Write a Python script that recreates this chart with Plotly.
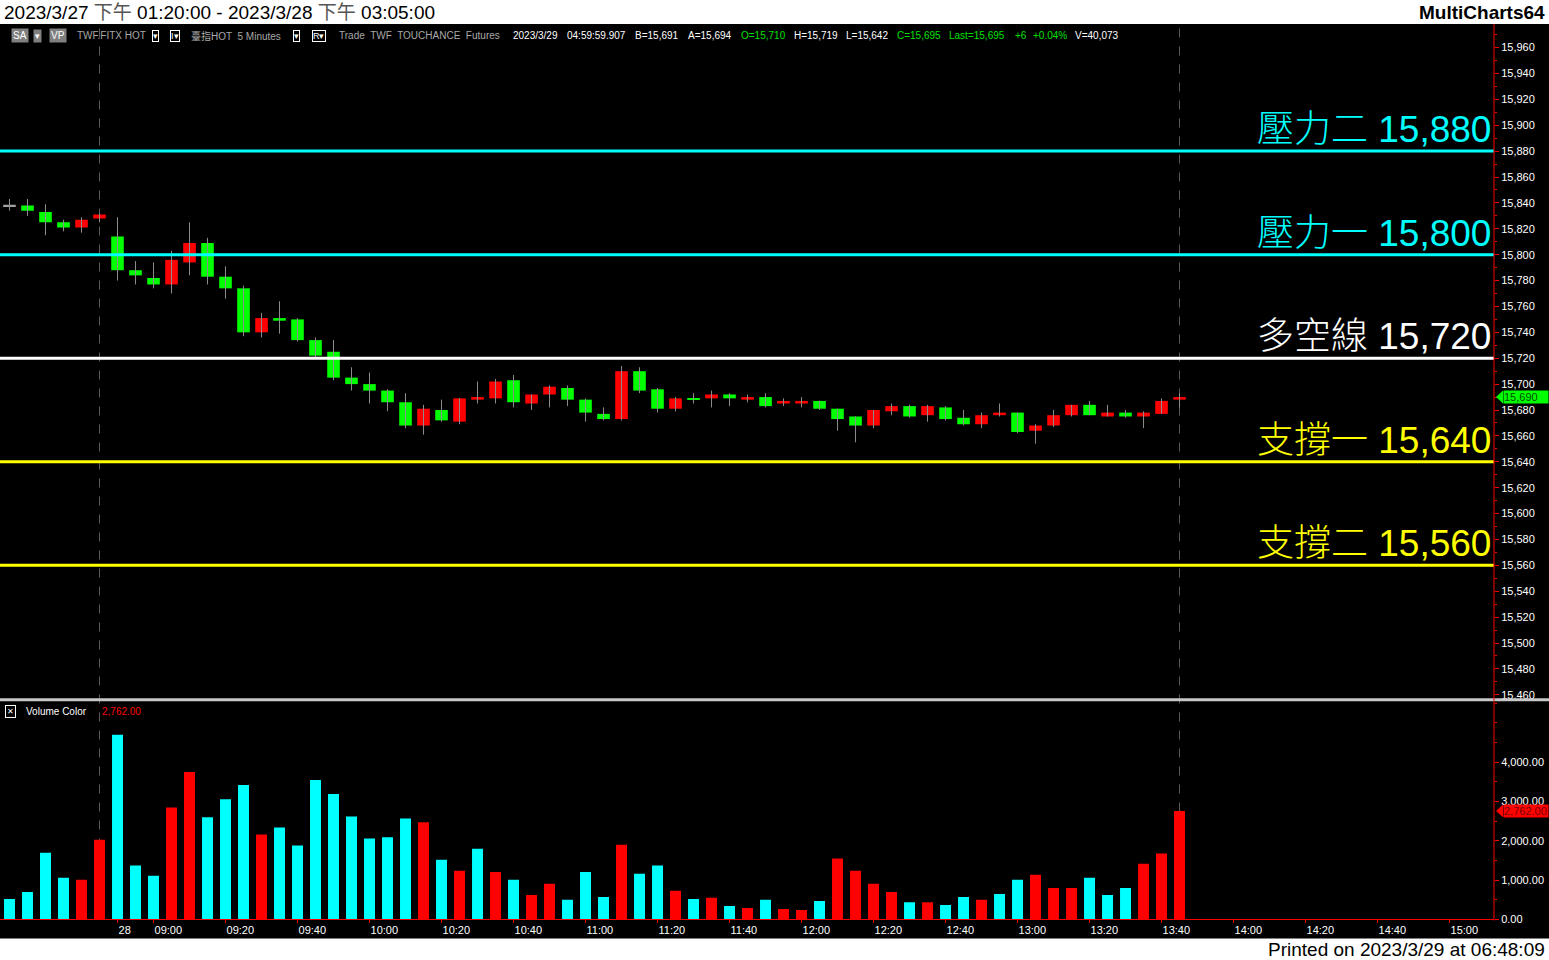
import plotly.graph_objects as go

W, H = 1549, 960

# ------------------------------------------------------------------ data
bar_times = ["04:35", "04:40", "04:45", "04:50", "04:55", "05:00",
             "08:50", "08:55", "09:00", "09:05", "09:10", "09:15", "09:20", "09:25",
             "09:30", "09:35", "09:40", "09:45", "09:50", "09:55", "10:00", "10:05",
             "10:10", "10:15", "10:20", "10:25", "10:30", "10:35", "10:40", "10:45",
             "10:50", "10:55", "11:00", "11:05", "11:10", "11:15", "11:20", "11:25",
             "11:30", "11:35", "11:40", "11:45", "11:50", "11:55", "12:00", "12:05",
             "12:10", "12:15", "12:20", "12:25", "12:30", "12:35", "12:40", "12:45",
             "12:50", "12:55", "13:00", "13:05", "13:10", "13:15", "13:20", "13:25",
             "13:30", "13:35", "13:40", "13:45"]
future_times = ["13:50", "13:55", "14:00", "14:05", "14:10", "14:15", "14:20", "14:25",
                "14:30", "14:35", "14:40", "14:45", "14:50", "14:55", "15:00", "15:05",
                "15:10", "15:15", "15:20", "15:25"]

opens = [15838, 15838, 15833, 15825, 15821, 15828, 15814, 15788, 15782, 15777,
         15794, 15809, 15783, 15774, 15740, 15751, 15750, 15734, 15725, 15705,
         15700, 15695, 15686, 15668, 15680, 15671, 15688, 15689, 15703, 15685,
         15692, 15697, 15688, 15677, 15673, 15710, 15696, 15681, 15689, 15689,
         15692, 15688, 15690, 15685, 15685, 15687, 15681, 15675, 15668, 15679,
         15683, 15676, 15682, 15674, 15669, 15676, 15678, 15664, 15668, 15676,
         15684, 15675, 15678, 15675, 15677, 15688]
highs = [15843, 15843, 15839, 15827, 15829, 15832, 15829, 15795, 15794, 15803,
         15825, 15813, 15791, 15776, 15755, 15764, 15751, 15736, 15734, 15713,
         15709, 15696, 15693, 15684, 15688, 15689, 15702, 15704, 15707, 15692,
         15699, 15699, 15689, 15682, 15714, 15713, 15697, 15690, 15693, 15695,
         15693, 15692, 15693, 15689, 15690, 15687, 15681, 15675, 15680, 15685,
         15684, 15684, 15683, 15680, 15678, 15685, 15678, 15669, 15680, 15684,
         15687, 15684, 15680, 15679, 15689, 15693]
lows = [15834, 15830, 15815, 15818, 15817, 15825, 15780, 15777, 15774, 15770,
        15784, 15777, 15766, 15737, 15736, 15739, 15733, 15720, 15703, 15695,
        15685, 15679, 15666, 15661, 15671, 15669, 15685, 15685, 15682, 15680,
        15682, 15683, 15671, 15672, 15672, 15693, 15678, 15679, 15685, 15682,
        15683, 15686, 15682, 15683, 15682, 15680, 15664, 15655, 15666, 15676,
        15674, 15671, 15672, 15668, 15666, 15675, 15662, 15654, 15667, 15675,
        15676, 15675, 15674, 15666, 15677, 15682]
closes = [15838, 15834, 15825, 15821, 15827, 15831, 15788, 15784, 15777, 15796,
          15809, 15783, 15774, 15740, 15751, 15749, 15734, 15722, 15705, 15700,
          15695, 15686, 15668, 15681, 15672, 15689, 15690, 15702, 15686, 15692,
          15698, 15688, 15678, 15673, 15710, 15695, 15681, 15689, 15688, 15692,
          15689, 15690, 15683, 15687, 15687, 15681, 15673, 15668, 15680, 15683,
          15675, 15683, 15673, 15669, 15676, 15678, 15663, 15668, 15676, 15684,
          15676, 15678, 15675, 15678, 15687, 15690]
volumes = [520, 700, 1700, 1060, 1010, 2030, 4700, 1370, 1110, 2850,
           3750, 2600, 3060, 3420, 2160, 2340, 1880, 3550, 3190, 2620,
           2060, 2090, 2570, 2470, 1520, 1240, 1800, 1210, 1010, 620,
           910, 500, 1210, 570, 1900, 1160, 1370, 730, 520, 550,
           340, 290, 500, 265, 240, 470, 1550, 1240, 910, 700,
           440, 440, 370, 570, 500, 650, 1010, 1140, 800, 800,
           1060, 620, 800, 1420, 1680, 2762]
volume_up = [0, 0, 0, 0, 1, 1, 0, 0, 0, 1, 1, 0, 0, 0, 1, 0, 0, 0, 0, 0,
             0, 0, 0, 1, 0, 1, 0, 1, 0, 1, 1, 0, 0, 0, 1, 0, 0, 1, 0, 1,
             0, 1, 0, 1, 1, 0, 1, 1, 1, 1, 0, 1, 0, 0, 1, 0, 0, 1, 1, 1,
             0, 0, 0, 1, 1, 1]

level_names = ["壓力二", "壓力一", "多空線", "支撐一", "支撐二"]
level_values = [15880, 15800, 15720, 15640, 15560]
level_colors = ["#00ffff", "#00ffff", "#ffffff", "#ffff00", "#ffff00"]

tick_times = ["08:50", "09:00", "09:20", "09:40", "10:00", "10:20", "10:40", "11:00",
              "11:20", "11:40", "12:00", "12:20", "12:40", "13:00", "13:20", "13:40",
              "14:00", "14:20", "14:40", "15:00"]
tick_labels = ["28", "09:00", "09:20", "09:40", "10:00", "10:20", "10:40", "11:00",
               "11:20", "11:40", "12:00", "12:20", "12:40", "13:00", "13:20", "13:40",
               "14:00", "14:20", "14:40", "15:00"]
session_marks = ["05:00", "13:45"]

last_price = 15690
last_volume = 2762

# ------------------------------------------------------------------ helpers
FONT = "Liberation Sans, Arial, Noto Sans CJK TC, sans-serif"
slots = bar_times + future_times
pos = {t: i for i, t in enumerate(slots)}
xs = [pos[t] for t in bar_times]

KY = 960 / 953.5  # vertical compensation for the capture


def fx(p):
    return p / W


def fy(p):
    return 1 - p * KY / H


X_RIGHT = 1494
x_range = [-0.528, 82.47]
price_range = [15458.0, 15978.2]
vol_bottom_px, vol_top_px = 919, 702
vol_range = [0, (vol_bottom_px - vol_top_px) / 0.0393]

fig = go.Figure()

# wicks
wx, wy = [], []
for x, h, l in zip(xs, highs, lows):
    wx += [x, x, None]
    wy += [l, h, None]
fig.add_trace(go.Scatter(x=wx, y=wy, mode="lines", line=dict(color="#8c8c8c", width=1),
                         hoverinfo="skip", showlegend=False, xaxis="x", yaxis="y"))

# bodies
body_base, body_h, body_col = [], [], []
for o, c in zip(opens, closes):
    lo, hi = min(o, c), max(o, c)
    if hi - lo < 1.2:
        mid = (hi + lo) / 2
        lo, hi = mid - 0.6, mid + 0.6
    body_base.append(lo)
    body_h.append(hi - lo)
    body_col.append("#ff0000" if c > o else ("#00ff00" if c < o else "#a0a0a0"))
fig.add_trace(go.Bar(x=xs, y=body_h, base=body_base, width=0.7,
                     marker=dict(color=body_col, line=dict(width=0)),
                     showlegend=False, xaxis="x", yaxis="y"))

# volume
fig.add_trace(go.Bar(x=xs, y=volumes, width=0.61,
                     marker=dict(color=["#ff0000" if u else "#00ffff" for u in volume_up],
                                 line=dict(width=0)),
                     showlegend=False, xaxis="x", yaxis="y2"))

shapes = []
# black background of the chart window
shapes.append(dict(type="rect", xref="paper", yref="paper", x0=0, x1=1, y0=fy(938), y1=fy(24),
                   fillcolor="#000000", line=dict(width=0), layer="below"))
# session dashed lines
for t in session_marks:
    shapes.append(dict(type="line", xref="x", yref="paper", x0=pos[t], x1=pos[t],
                       y0=fy(919), y1=fy(24), line=dict(color="#5a5a5a", width=1, dash="dash"),
                       layer="below"))
# level lines
for v, col in zip(level_values, level_colors):
    shapes.append(dict(type="line", xref="paper", yref="y", x0=0, x1=fx(X_RIGHT), y0=v, y1=v,
                       line=dict(color=col, width=3), layer="above"))
# pane separator
shapes.append(dict(type="line", xref="paper", yref="paper", x0=0, x1=1, y0=fy(699.5), y1=fy(699.5),
                   line=dict(color="#c8c8c8", width=3)))
# right red axis line
shapes.append(dict(type="line", xref="paper", yref="paper", x0=fx(X_RIGHT), x1=fx(X_RIGHT),
                   y0=fy(920), y1=fy(24), line=dict(color="#ff0000", width=1)))
# last-value tag arrows
shapes.append(dict(type="path", xref="paper", yref="y",
                   path=f"M {fx(1496)},{last_price} L {fx(1503)},{last_price + 5} "
                        f"L {fx(1503)},{last_price - 5} Z",
                   fillcolor="#00ff00", line=dict(width=0)))
shapes.append(dict(type="path", xref="paper", yref="y2",
                   path=f"M {fx(1496)},{last_volume} L {fx(1503)},{last_volume + 165} "
                        f"L {fx(1503)},{last_volume - 165} Z",
                   fillcolor="#ff0000", line=dict(width=0)))

ann = []


def text(xp, yp, s, color="#ffffff", size=11, xanchor="left", yanchor="middle",
         family=FONT, **kw):
    ann.append(dict(xref="paper", yref="paper", x=fx(xp), y=fy(yp), text=s, showarrow=False,
                    xanchor=xanchor, yanchor=yanchor,
                    font=dict(color=color, size=size, family=family), **kw))


# header / footer
text(2, 12, "2023/3/27 <span style='color:#555555'>下午</span> 01:20:00 - 2023/3/28 "
            "<span style='color:#555555'>下午</span> 03:05:00", color="#000000", size=19)
text(1547, 12, "<b>MultiCharts64</b>", color="#000000", size=19, xanchor="right")
text(1547, 949, "Printed on 2023/3/29 at 06:48:09", color="#000000", size=19, xanchor="right")

# info line
IY = 35.5
GRAY = "#a8a8a8"
text(11, IY, "SA", color="#ffffff", size=10, bgcolor="#7f7f7f", borderpad=1)
text(33, IY, "▾", color="#ffffff", size=9, bgcolor="#7f7f7f", borderpad=1)
text(49, IY, "VP", color="#ffffff", size=10, bgcolor="#7f7f7f", borderpad=1)
text(75, IY, "TWF.FITX HOT", color=GRAY, size=10)
text(152, IY, "▾", color="#ffffff", size=9, bordercolor="#ffffff", borderwidth=1, borderpad=0)
text(170, IY, "I▾", color="#ffffff", size=9, bordercolor="#ffffff", borderwidth=1, borderpad=0)
text(189, IY, "臺指HOT  5 Minutes", color=GRAY, size=10)
text(293, IY, "▾", color="#ffffff", size=9, bordercolor="#ffffff", borderwidth=1, borderpad=0)
text(312, IY, "R▾", color="#ffffff", size=9, bordercolor="#ffffff", borderwidth=1, borderpad=0)
text(337, IY, "Trade  TWF  TOUCHANCE  Futures", color=GRAY, size=10)
text(511, IY, "2023/3/29", size=10)
text(565, IY, "04:59:59.907", size=10)
text(633, IY, "B=15,691", size=10)
text(686, IY, "A=15,694", size=10)
text(739, IY, "O=15,710", color="#00e000", size=10)
text(792, IY, "H=15,719", size=10)
text(844, IY, "L=15,642", size=10)
text(895, IY, "C=15,695", color="#00e000", size=10)
text(947, IY, "Last=15,695", color="#00e000", size=10)
text(1013, IY, "+6", color="#00e000", size=10)
text(1031, IY, "+0.04%", color="#00e000", size=10)
text(1073, IY, "V=40,073", size=10)

# volume pane header
text(5, 711, "✕", color="#ffffff", size=8, bordercolor="#ffffff", borderwidth=1, borderpad=1)
text(24, 711, "Volume Color", size=10)
text(100, 711, f"{last_volume:,.2f}", color="#ff0000", size=10)

# level labels
for name, v, col in zip(level_names, level_values, level_colors):
    ann.append(dict(xref="paper", yref="y", x=fx(1493), y=v, text=f"{name} {v:,}",
                    showarrow=False, xanchor="right", yanchor="bottom", yshift=-1,
                    font=dict(color=col, size=37, family=FONT, weight=300)))

# last value tags
ann.append(dict(xref="paper", yref="y", x=fx(1503), y=last_price, text=f"{last_price:,}",
                showarrow=False, xanchor="left", yanchor="middle", bgcolor="#00ff00",
                borderpad=0, width=44, align="left",
                font=dict(color="#004d00", size=11, family=FONT)))
ann.append(dict(xref="paper", yref="y2", x=fx(1503), y=last_volume, text=f"{last_volume:,.2f}",
                showarrow=False, xanchor="left", yanchor="middle", bgcolor="#ff0000",
                borderpad=0, width=44, align="left",
                font=dict(color="#7a0000", size=11, family=FONT)))

fig.update_layout(
    width=W, height=H, autosize=False,
    margin=dict(l=0, r=0, t=0, b=0),
    paper_bgcolor="#ffffff", plot_bgcolor="#000000",
    barmode="overlay", showlegend=False,
    xaxis=dict(domain=[0, fx(X_RIGHT)], range=x_range, anchor="y2",
               tickvals=[pos[t] for t in tick_times], ticktext=tick_labels,
               ticklabelposition="outside right",
               showline=True, linecolor="#ff0000", linewidth=1,
               ticks="outside", ticklen=3, tickcolor="#ff0000",
               tickfont=dict(color="#ffffff", size=11, family=FONT),
               showgrid=False, zeroline=False, fixedrange=True),
    yaxis=dict(domain=[fy(697), fy(24)], range=price_range, side="right", anchor="x",
               tick0=15460, dtick=20, tickformat=",d",
               ticks="outside", ticklen=4, tickcolor="#ff0000",
               minor=dict(dtick=10, ticks="outside", ticklen=2, tickcolor="#ff0000"),
               tickfont=dict(color="#ffffff", size=11, family=FONT),
               showline=False, showgrid=False, zeroline=False),
    yaxis2=dict(domain=[fy(vol_bottom_px), fy(vol_top_px)], range=vol_range, side="right",
                anchor="x", tickvals=[0, 1000, 2000, 3000, 4000], tickformat=",.2f",
                ticks="outside", ticklen=4, tickcolor="#ff0000",
                minor=dict(dtick=500, ticks="outside", ticklen=2, tickcolor="#ff0000"),
                tickfont=dict(color="#ffffff", size=11, family=FONT),
                showline=False, showgrid=False, zeroline=False),
    shapes=shapes, annotations=ann,
)

fig.write_html("out.html",
               config={"displayModeBar": False},
               post_script="document.body.style.margin='0';"
                           "document.documentElement.style.overflow='hidden';"
                           "document.body.style.overflow='hidden';")
